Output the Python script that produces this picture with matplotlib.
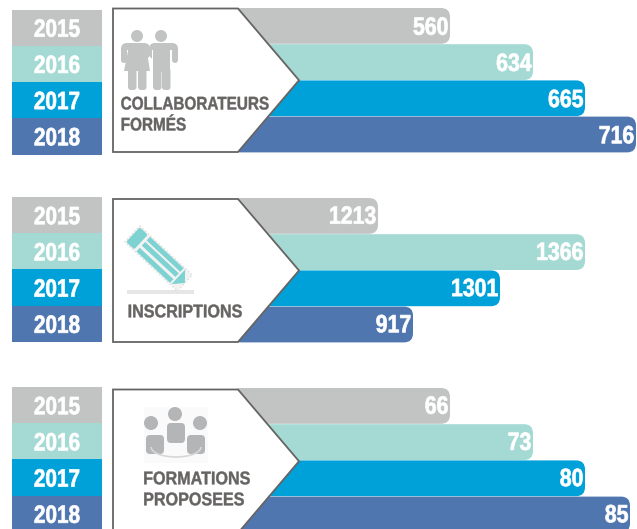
import matplotlib
matplotlib.use("Agg")
import matplotlib.pyplot as plt
from matplotlib.patches import Rectangle, Polygon, Circle, FancyBboxPatch, Arc
from matplotlib.patheffects import AbstractPathEffect
from matplotlib.transforms import Affine2D

years = ["2015", "2016", "2017", "2018"]
colores = ["#C1C4C3", "#A4DAD3", "#00A1D9", "#4F76AF"]

# the labels do not follow the bar lengths in the original, so both are kept
valores1 = [560, 634, 665, 716]
valores2 = [1213, 1366, 1301, 917]
valores3 = [66, 73, 80, 85]
largos1 = [450, 533, 585, 636]
largos2 = [378, 585, 500, 413]
largos3 = [450, 533, 585, 630]

titulos1 = ["COLLABORATEURS", "FORMÉS"]
titulos2 = ["INSCRIPTIONS"]
titulos3 = ["FORMATIONS", "PROPOSEES"]

plt.rcParams['font.family'] = ['Liberation Sans', 'DejaVu Sans']
GRIS = "#666463"
ICONO = "#C1C4C3"


class Estrecho(AbstractPathEffect):
    # no condensed font installed, so squeeze the glyphs sideways
    def __init__(self, sx, lado, grosor=0.5):
        super().__init__()
        self.sx = sx
        self.lado = lado
        self.grosor = grosor

    def draw_path(self, renderer, gc, tpath, affine, rgbFace=None):
        caja = tpath.get_extents()
        x0 = {"left": caja.x0, "center": (caja.x0 + caja.x1) / 2, "right": caja.x1}[self.lado]
        t = Affine2D().translate(-x0, 0).scale(self.sx, 1).translate(x0, 0) + affine
        gc0 = renderer.new_gc()
        gc0.copy_properties(gc)
        gc0.set_foreground(rgbFace)
        gc0.set_linewidth(self.grosor)
        renderer.draw_path(gc0, tpath, t, rgbFace)
        gc0.restore()


fig = plt.figure(figsize=(6.37, 5.29), dpi=100)
ax = fig.add_axes([0, 0, 1, 1])
ax.set_xlim(0, 637)
ax.set_ylim(529, 0)
ax.axis("off")


def panel(y0, alto_fila, valores, largos, titulos, x_texto, y_texto, arriba, abajo, sx, d_bloque, d_valor):
    for i in range(4):
        y = y0 + i * alto_fila
        # left colour block with the year
        ax.add_patch(Rectangle((12, y + d_bloque), 90, alto_fila + 0.3, color=colores[i], lw=0, zorder=1))
        ax.text(57, y + d_bloque + 2.1 + alto_fila / 2, years[i], color="white", fontsize=18, weight="bold",
                ha="center", va="center", zorder=5, path_effects=[Estrecho(0.83, "center")])
        # bar, starts hidden under the arrow
        ax.add_patch(FancyBboxPatch((232, y), largos[i] - 232, alto_fila - 0.4,
                                    boxstyle="round,pad=0,rounding_size=9", fc=colores[i], ec="none",
                                    zorder=2))
        ax.text(largos[i] - 1.5, y + d_valor + alto_fila / 2, str(valores[i]), color="white", fontsize=18,
                weight="bold", ha="right", va="center", zorder=5, path_effects=[Estrecho(0.85, "right")])
    # white arrow on top of the bars
    medio = (arriba + abajo) / 2
    ax.add_patch(Polygon([(113, arriba), (238, arriba), (299, medio), (238, abajo), (113, abajo)],
                         closed=True, fc="white", ec=GRIS, lw=1.3, zorder=3))
    for j, t in enumerate(titulos):
        ax.text(x_texto, y_texto + j * 21, t, color=GRIS, fontsize=13.2, weight="bold",
                ha="left", va="baseline", zorder=5, path_effects=[Estrecho(sx, "left", 0.3)])


panel(8, 36.2, valores1, largos1, titulos1, 120.5, 109.5, 8.5, 152, 0.835, 1.5, 1.6)
panel(198, 36.2, valores2, largos2, titulos2, 127.5, 317.3, 199, 342, 0.88, -1, 0.6)
panel(388, 36.2, valores3, largos3, titulos3, 143, 484.3, 389.5, 533, 0.88, -1, 0.6)

# people icon
ax.add_patch(Circle((137, 36), 6, color=ICONO, lw=0, zorder=4))
ax.add_patch(Circle((161, 36), 6, color=ICONO, lw=0, zorder=4))
ax.add_patch(FancyBboxPatch((121, 43), 29, 16, boxstyle="round,pad=0,rounding_size=6", color=ICONO, lw=0, zorder=4))
ax.add_patch(FancyBboxPatch((149, 43), 29, 16, boxstyle="round,pad=0,rounding_size=6", color=ICONO, lw=0, zorder=4))
ax.add_patch(Rectangle((127, 50), 19, 10, color="white", lw=0, zorder=4))
ax.add_patch(Rectangle((152, 50), 20, 10, color="white", lw=0, zorder=4))
ax.add_patch(Polygon([(129, 46), (146, 46), (150, 71), (124, 71)], color=ICONO, lw=0, zorder=4))
ax.add_patch(Rectangle((153, 46), 17, 26, color=ICONO, lw=0, zorder=4))
ax.add_patch(FancyBboxPatch((121, 50), 6, 13, boxstyle="round,pad=0,rounding_size=3", color=ICONO, lw=0, zorder=4))
ax.add_patch(FancyBboxPatch((172, 50), 6, 13, boxstyle="round,pad=0,rounding_size=3", color=ICONO, lw=0, zorder=4))
for x in [128, 138, 153, 162]:
    ax.add_patch(FancyBboxPatch((x, 68), 8.5, 22, boxstyle="round,pad=0,rounding_size=3", color=ICONO, lw=0, zorder=4))

# pencil icon
TURQ = "#7FD2D2"
rot = Affine2D().rotate_deg_around(133, 236, 43) + ax.transData
ax.add_patch(Rectangle((131, 224), 72, 22, fc="#F3F3F3", ec="#DDDDDD", lw=1, ls=":", zorder=4, transform=rot))
ax.add_patch(FancyBboxPatch((132, 225), 11, 20, boxstyle="round,pad=0,rounding_size=2", color=TURQ, lw=0, zorder=5, transform=rot))
ax.add_patch(Rectangle((146, 225), 46, 5, color=TURQ, lw=0, zorder=5, transform=rot))
ax.add_patch(Rectangle((146, 232), 46, 5, color=TURQ, lw=0, zorder=5, transform=rot))
ax.add_patch(Rectangle((146, 240), 46, 5, color=TURQ, lw=0, zorder=5, transform=rot))
ax.add_patch(Polygon([(194, 225), (203, 235), (194, 245)], color=TURQ, lw=0, zorder=5, transform=rot))
ax.add_patch(Rectangle((127, 290), 67, 4, color="#E6E6E6", lw=0, zorder=4))

# meeting icon
GRIS2 = "#B4B5B7"
ax.add_patch(Rectangle((144, 407), 64, 56, color="#FAFAFA", lw=0, zorder=4))
for cx, cy, r in [(175, 414, 7), (151, 423, 7), (200, 423, 7)]:
    ax.add_patch(Circle((cx, cy), r, color=GRIS2, lw=0, zorder=5))
for x, y, w, h in [(167, 423, 18, 20), (146, 435, 18, 19), (187, 435, 18, 19)]:
    ax.add_patch(FancyBboxPatch((x, y), w, h, boxstyle="round,pad=0,rounding_size=4", color=GRIS2, lw=0, zorder=5))
ax.add_patch(Arc((176, 447), 50, 20, theta1=0, theta2=180, color="#D8D8D8", lw=1.2, zorder=5))

plt.savefig("out.png", dpi=100)
